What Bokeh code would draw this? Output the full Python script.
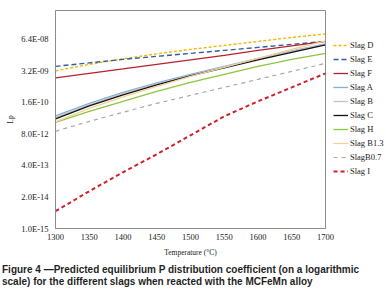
from bokeh.plotting import figure
from bokeh.models import Legend, LegendItem, Title, FixedTicker, Range1d, Div
from bokeh.layouts import column
from bokeh.embed import file_html
from bokeh.resources import INLINE

# ---- data ----
temperature = [1300, 1350, 1400, 1450, 1500, 1550, 1600, 1650, 1700]
slag_d = [3.22e-9, 5.97e-9, 1.01e-8, 1.62e-8, 2.48e-8, 3.62e-8, 5.30e-8, 7.75e-8, 1.08e-7]
slag_e = [4.93e-9, 6.88e-9, 9.59e-9, 1.28e-8, 1.70e-8, 2.25e-8, 3.00e-8, 3.99e-8, 5.30e-8]
slag_f = [1.66e-9, 2.54e-9, 3.89e-9, 5.97e-9, 9.15e-9, 1.40e-8, 2.25e-8, 3.46e-8, 5.30e-8]
slag_a = [4.49e-11, 1.47e-10, 4.18e-10, 1.03e-9, 2.31e-9, 4.93e-9, 1.055e-8, 2.15e-8, 4.18e-8]
slag_b = [3.89e-11, 1.275e-10, 3.80e-10, 9.37e-10, 2.10e-9, 4.71e-9, 1.006e-8, 2.05e-8, 3.99e-8]
slag_c = [3.37e-11, 1.16e-10, 3.30e-10, 8.52e-10, 2.00e-9, 4.28e-9, 9.15e-9, 1.87e-8, 3.80e-8]
slag_h = [2.42e-11, 6.88e-11, 1.78e-10, 4.59e-10, 1.08e-9, 2.31e-9, 4.93e-9, 9.59e-9, 1.70e-8]
slag_b13 = [2.54e-11, 9.15e-11, 2.72e-10, 7.39e-10, 1.91e-9, 4.49e-9, 1.055e-8, 2.48e-8, 5.56e-8]
slag_b07 = [1.03e-11, 2.66e-11, 6.25e-11, 1.47e-10, 3.14e-10, 6.71e-10, 1.44e-9, 3.07e-9, 6.56e-9]
slag_i = [5.16e-15, 3.45e-14, 2.10e-13, 1.16e-12, 7.05e-12, 4.28e-11, 1.78e-10, 6.71e-10, 2.54e-9]

series_names = ["Slag D", "Slag E", "Slag F", "Slag A", "Slag B", "Slag C",
                "Slag H", "Slag B1.3", "SlagB0.7", "Slag I"]

lp_ticks = [1e-15, 2e-14, 4e-13, 8e-12, 1.6e-10, 3.2e-9, 6.4e-8]
lp_tick_labels = ["1.0E-15", "2.0E-14", "4.0E-13", "8.0E-12", "1.6E-10", "3.2E-09", "6.4E-08"]
t_ticks = [1300, 1350, 1400, 1450, 1500, 1550, 1600, 1650, 1700]

caption_lines = [
    "Figure 4 \u2014Predicted equilibrium P distribution coefficient (on a logarithmic",
    "scale) for the different slags when reacted with the MCFeMn alloy",
]

# ---- styles ----
styles = [
    dict(color="#F2B800", line_width=1.4, line_dash="3 2"),
    dict(color="#2F5DA6", line_width=1.4, line_dash="5 3"),
    dict(color="#B8202C", line_width=1.3, line_dash="solid"),
    dict(color="#7FB0DC", line_width=1.3, line_dash="solid"),
    dict(color="#C4C4C4", line_width=1.3, line_dash="solid"),
    dict(color="#111111", line_width=1.3, line_dash="solid"),
    dict(color="#8CC63F", line_width=1.3, line_dash="solid"),
    dict(color="#F5CF96", line_width=1.3, line_dash="solid"),
    dict(color="#A8A8A8", line_width=1.2, line_dash="4 4"),
    dict(color="#D0202A", line_width=2.0, line_dash="4 3"),
]

p = figure(frame_width=270, frame_height=218, y_axis_type="log",
           x_range=Range1d(1300, 1700), y_range=Range1d(1e-15, 1e-6),
           output_backend="svg", toolbar_location=None,
           min_border_left=54, min_border_right=62, min_border_top=10, min_border_bottom=36,
           background_fill_color="white", border_fill_color="white")

p.xgrid.visible = False
p.ygrid.visible = False
p.outline_line_color = "#8C8C8C"
p.outline_line_width = 1

serif = "Liberation Serif"

p.xaxis.ticker = FixedTicker(ticks=t_ticks)
p.yaxis.ticker = FixedTicker(ticks=lp_ticks)
p.yaxis.major_label_overrides = {t: l for t, l in zip(lp_ticks, lp_tick_labels)}
for ax in (p.xaxis, p.yaxis):
    ax.axis_line_color = "#8C8C8C"
    ax.major_tick_line_color = None
    ax.minor_tick_line_color = None
    ax.major_tick_out = 0
    ax.major_tick_in = 0
    ax.major_label_text_font = serif
    ax.major_label_text_font_size = "8.5px"
    ax.major_label_text_color = "#222222"
p.yaxis.major_label_standoff = 7
p.xaxis.major_label_standoff = 5
p.xaxis.axis_label = "Temperature (\u00b0C)"
p.xaxis.axis_label_text_font = serif
p.xaxis.axis_label_text_font_style = "normal"
p.xaxis.axis_label_text_font_size = "7.5px"
p.xaxis.axis_label_text_color = "#222222"
p.xaxis.axis_label_standoff = 5

all_series = [slag_d, slag_e, slag_f, slag_a, slag_b, slag_c, slag_h, slag_b13, slag_b07, slag_i]
items = []
for name, ys, st in zip(series_names, all_series, styles):
    r = p.line(temperature, ys, line_color=st["color"], line_width=st["line_width"],
               line_dash=st["line_dash"])
    items.append(LegendItem(label=name, renderers=[r]))

legend = Legend(items=items, location=(8, 50), orientation="vertical",
                glyph_width=15, glyph_height=14, label_height=14, spacing=0,
                label_standoff=2, padding=0, margin=0,
                label_text_font=serif, label_text_font_size="8.5px",
                label_text_color="#222222",
                background_fill_alpha=0, border_line_color=None)
p.add_layout(legend, "right")

# y axis title (shifted up like the reference)
p.add_layout(Title(text="Lp", align="center", offset=20, standoff=7,
                   text_font=serif, text_font_size="7.5px", text_font_style="normal",
                   text_color="#222222"), "left")

caption = Div(text="<br>".join(caption_lines), width=386, margin=(0, 0, 0, 0),
              styles={"font-family": "'Liberation Sans', Arial, sans-serif",
                      "font-size": "10px", "font-weight": "bold", "line-height": "11.7px",
                      "color": "#1f1f1f", "padding-left": "2px", "white-space": "nowrap"})

layout = column(p, caption, spacing=0)
open("out.html", "w").write(file_html(layout, INLINE))
